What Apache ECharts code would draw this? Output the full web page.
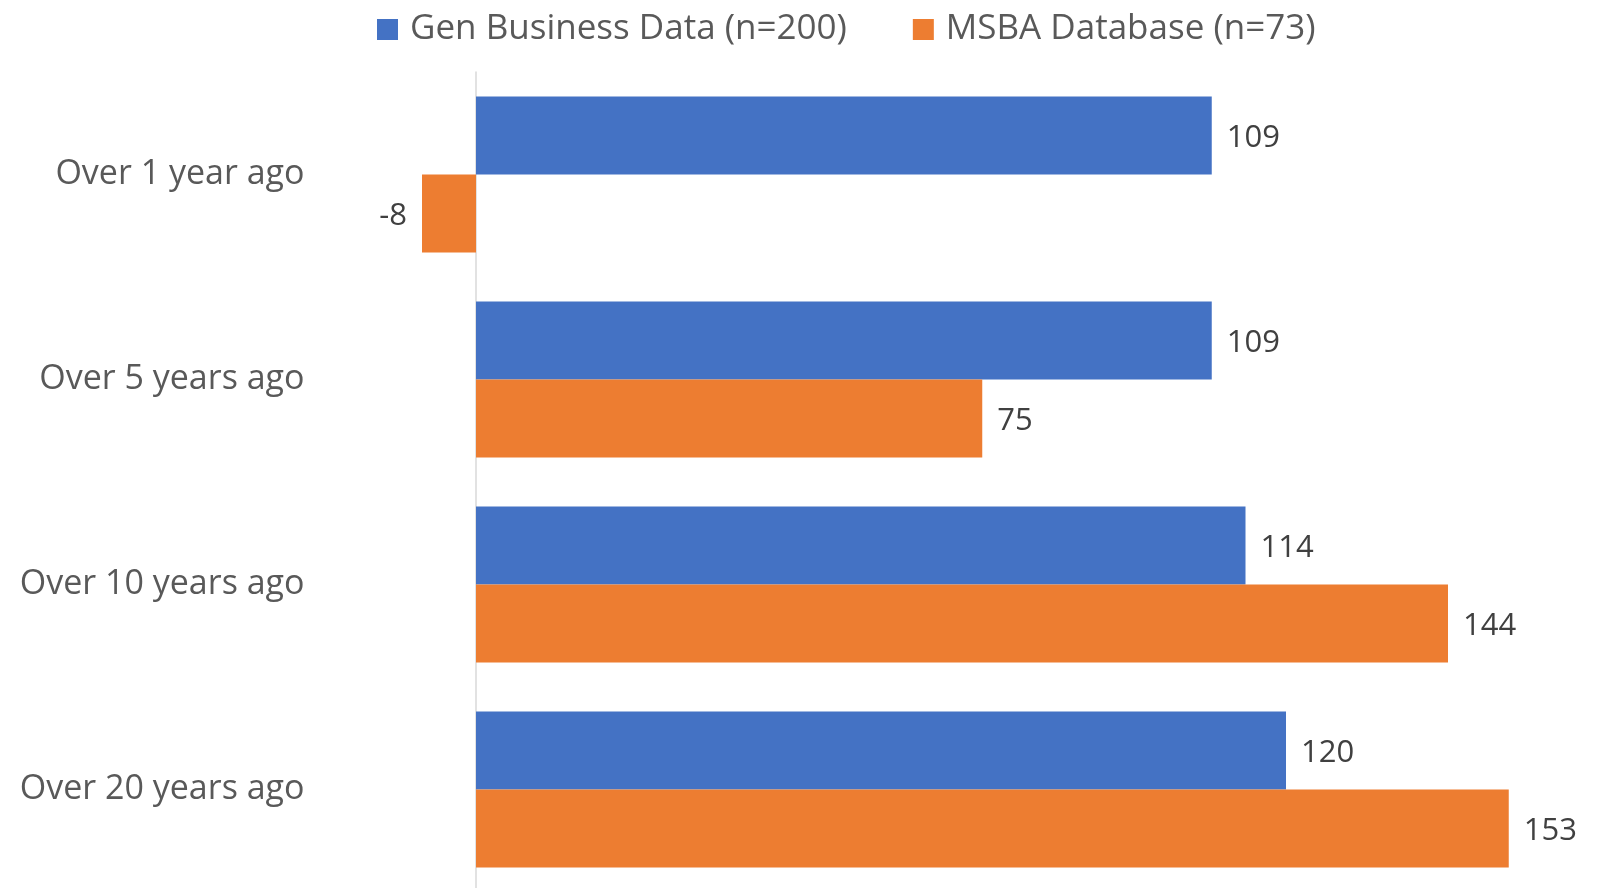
<!DOCTYPE html>
<html>
<head>
<meta charset="utf-8">
<script src="https://cdn.jsdelivr.net/npm/echarts@6/dist/echarts.min.js"></script>
<style>
html,body{margin:0;padding:0;background:#fff;}
#chart{width:1601px;height:888px;}
</style>
</head>
<body>
<div id="chart"></div>
<script>
const categories = ['Over 1 year ago', 'Over 5 years ago', 'Over 10 years ago', 'Over 20 years ago'];
const seriesNames = ['Gen Business Data (n=200)', 'MSBA Database (n=73)'];
const genBusiness = [109, 109, 114, 120];
const msba = [-8, 75, 144, 153];

const FONT = '"Open Sans", "Noto Sans", sans-serif';

function toData(arr) {
  return arr.map(v => v < 0 ? { value: v, label: { position: 'left' } } : v);
}

const labelStyle = { show: true, position: 'right', distance: 15, offset: [0, 3], fontFamily: FONT, fontSize: 31, color: '#404040' };

const chart = echarts.init(document.getElementById('chart'));
chart.setOption({
  animation: false,
  backgroundColor: '#ffffff',
  legend: {
    data: seriesNames,
    left: 372,
    top: 7,
    itemWidth: 21,
    itemHeight: 21,
    itemGap: 66,
    icon: 'rect',
    textStyle: { fontFamily: FONT, fontSize: 35, color: '#595959', padding: [0, 0, 0, 7] }
  },
  grid: { left: 408.5, top: 72, width: 1147.5, height: 820, containLabel: false, outerBoundsMode: 'none' },
  xAxis: {
    type: 'value',
    min: -10,
    max: 160,
    show: false,
    splitLine: { show: false }
  },
  yAxis: {
    type: 'category',
    data: categories,
    inverse: true,
    axisLine: { show: true, onZero: true, lineStyle: { color: '#d9d9d9', width: 1.5 } },
    axisTick: { show: false },
    axisLabel: { margin: 104, fontFamily: FONT, fontSize: 34, color: '#595959', padding: [5, 0, 0, 0] }
  },
  series: [
    {
      name: seriesNames[0],
      type: 'bar',
      data: toData(genBusiness),
      barGap: '0%',
      barCategoryGap: '24%',
      itemStyle: { color: '#4472C4' },
      label: labelStyle
    },
    {
      name: seriesNames[1],
      type: 'bar',
      data: toData(msba),
      barGap: '0%',
      barCategoryGap: '24%',
      itemStyle: { color: '#ED7D31' },
      label: labelStyle
    }
  ]
});
</script>
</body>
</html>
